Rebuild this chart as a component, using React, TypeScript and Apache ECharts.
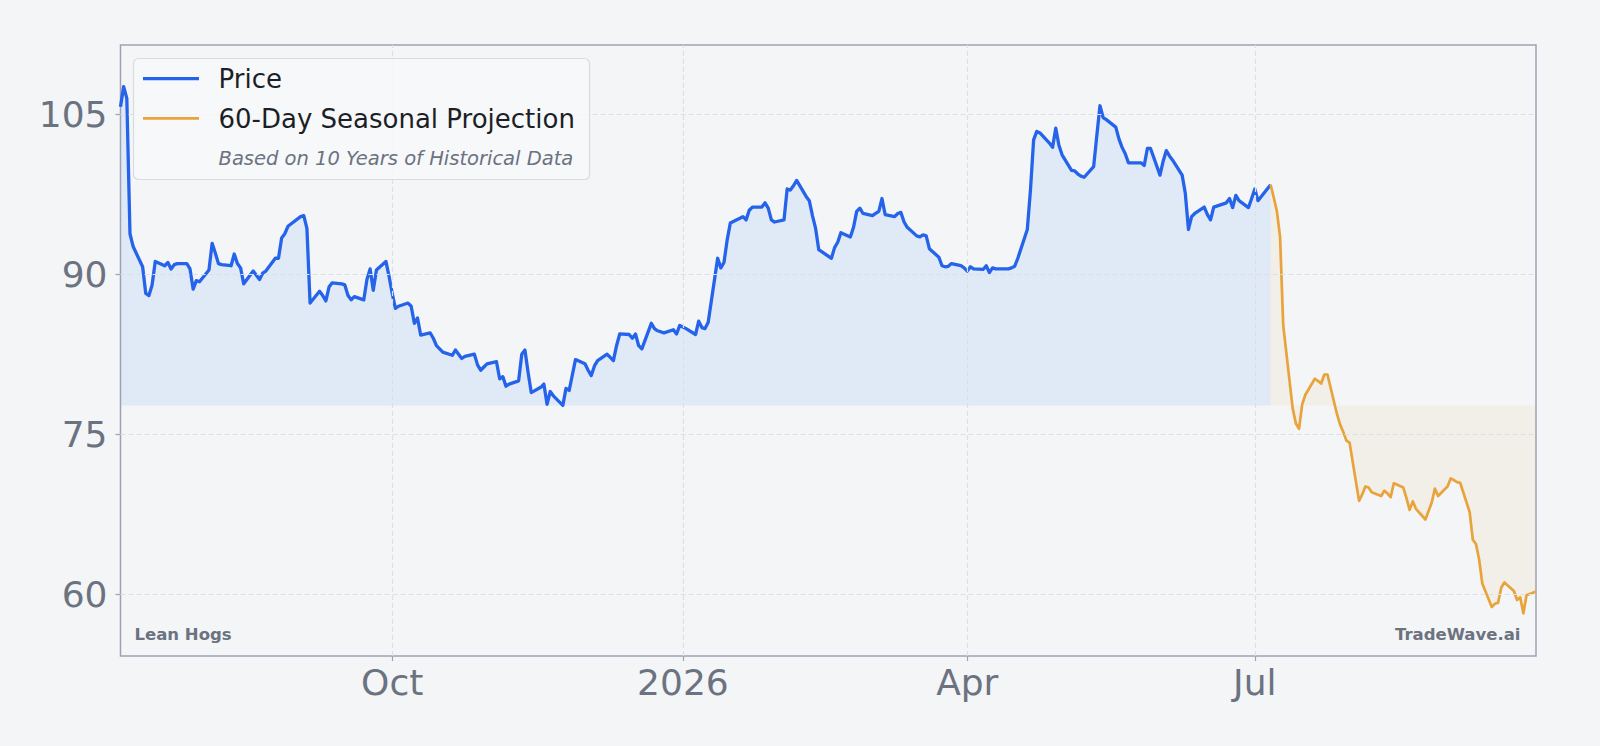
import React, { useEffect, useRef } from 'react';
import * as echarts from 'echarts';

// ---- Price (daily closes) ----
const priceDates: string[] = [
  // Jul 2025
  '2025-07-07','2025-07-08','2025-07-09','2025-07-10','2025-07-11','2025-07-14','2025-07-15','2025-07-16','2025-07-17','2025-07-18',
  '2025-07-21','2025-07-22','2025-07-23','2025-07-24','2025-07-25','2025-07-28','2025-07-29','2025-07-30','2025-07-31',
  // Aug 2025
  '2025-08-01','2025-08-04','2025-08-05','2025-08-06','2025-08-07','2025-08-08','2025-08-11','2025-08-12','2025-08-13','2025-08-14',
  '2025-08-15','2025-08-18','2025-08-19','2025-08-20','2025-08-21','2025-08-22','2025-08-25','2025-08-26','2025-08-27','2025-08-28','2025-08-29',
  // Sep 2025
  '2025-09-02','2025-09-03','2025-09-04','2025-09-05','2025-09-08','2025-09-09','2025-09-10','2025-09-11','2025-09-12','2025-09-15',
  '2025-09-16','2025-09-17','2025-09-18','2025-09-19','2025-09-22','2025-09-23','2025-09-24','2025-09-25','2025-09-26','2025-09-29','2025-09-30',
  // Oct 2025
  '2025-10-01','2025-10-02','2025-10-03','2025-10-06','2025-10-07','2025-10-08','2025-10-09','2025-10-10','2025-10-13','2025-10-14',
  '2025-10-15','2025-10-16','2025-10-17','2025-10-20','2025-10-21','2025-10-22','2025-10-23','2025-10-24','2025-10-27','2025-10-28',
  '2025-10-29','2025-10-30','2025-10-31',
  // Nov 2025
  '2025-11-03','2025-11-04','2025-11-05','2025-11-06','2025-11-07','2025-11-10','2025-11-11','2025-11-12','2025-11-13','2025-11-14',
  '2025-11-17','2025-11-18','2025-11-19','2025-11-20','2025-11-21','2025-11-24','2025-11-25','2025-11-26','2025-11-28',
  // Dec 2025
  '2025-12-01','2025-12-02','2025-12-03','2025-12-04','2025-12-05','2025-12-08','2025-12-09','2025-12-10','2025-12-11','2025-12-12',
  '2025-12-15','2025-12-16','2025-12-17','2025-12-18','2025-12-19','2025-12-22','2025-12-23','2025-12-24','2025-12-26','2025-12-29',
  '2025-12-30','2025-12-31',
  // Jan 2026
  '2026-01-02','2026-01-05','2026-01-06','2026-01-07','2026-01-08','2026-01-09','2026-01-12','2026-01-13','2026-01-14','2026-01-15',
  '2026-01-16','2026-01-20','2026-01-21','2026-01-22','2026-01-23','2026-01-26','2026-01-27','2026-01-28','2026-01-29','2026-01-30',
  // Feb 2026
  '2026-02-02','2026-02-03','2026-02-04','2026-02-05','2026-02-06','2026-02-09','2026-02-10','2026-02-11','2026-02-12','2026-02-13',
  '2026-02-17','2026-02-18','2026-02-19','2026-02-20','2026-02-23','2026-02-24','2026-02-25','2026-02-26','2026-02-27',
  // Mar 2026
  '2026-03-02','2026-03-03','2026-03-04','2026-03-05','2026-03-06','2026-03-09','2026-03-10','2026-03-11','2026-03-12','2026-03-13',
  '2026-03-16','2026-03-17','2026-03-18','2026-03-19','2026-03-20','2026-03-23','2026-03-24','2026-03-25','2026-03-26','2026-03-27',
  '2026-03-30','2026-03-31',
  // Apr 2026
  '2026-04-01','2026-04-02','2026-04-03','2026-04-06','2026-04-07','2026-04-08','2026-04-09','2026-04-10','2026-04-13','2026-04-14',
  '2026-04-15','2026-04-16','2026-04-17','2026-04-20','2026-04-21','2026-04-22','2026-04-23','2026-04-24','2026-04-27','2026-04-28',
  '2026-04-29','2026-04-30',
  // May 2026
  '2026-05-01','2026-05-04','2026-05-05','2026-05-06','2026-05-07','2026-05-08','2026-05-11','2026-05-12','2026-05-13','2026-05-14',
  '2026-05-15','2026-05-18','2026-05-19','2026-05-20','2026-05-21','2026-05-22','2026-05-26','2026-05-27','2026-05-28','2026-05-29',
  // Jun 2026
  '2026-06-01','2026-06-02','2026-06-03','2026-06-04','2026-06-05','2026-06-08','2026-06-09','2026-06-10','2026-06-11','2026-06-12',
  '2026-06-15','2026-06-16','2026-06-17','2026-06-18','2026-06-22','2026-06-23','2026-06-24','2026-06-25','2026-06-26','2026-06-29',
  '2026-06-30',
  // Jul 2026
  '2026-07-01','2026-07-02','2026-07-06',
];

const priceValues: number[] = [
  // Jul 2025
  105.7, 107.6, 106.5, 93.8, 92.6, 90.7, 88.2, 88.0, 89.0, 91.2,
  90.8, 91.1, 90.5, 90.9, 91.0, 91.0, 90.5, 88.6, 89.4,
  // Aug 2025
  89.3, 90.4, 92.9, 92.0, 91.0, 90.9, 90.8, 91.9, 91.0, 90.6,
  89.1, 90.3, 89.9, 89.5, 90.1, 90.3, 91.5, 91.5, 93.4, 93.8, 94.5,
  // Sep 2025
  95.4, 95.5, 94.3, 87.3, 88.4, 88.0, 87.5, 88.8, 89.2, 89.1,
  89.0, 88.0, 87.6, 87.9, 87.6, 89.5, 90.5, 88.5, 90.4, 91.2, 89.8,
  // Oct 2025
  88.2, 86.8, 87.0, 87.3, 87.0, 85.4, 85.9, 84.3, 84.5, 84.0,
  83.3, 83.0, 82.7, 82.4, 82.9, 82.5, 82.1, 82.3, 82.5, 81.5,
  81.0, 81.3, 81.6,
  // Nov 2025
  81.8, 80.2, 80.4, 79.5, 79.7, 80.0, 82.5, 82.9, 80.8, 78.9,
  79.4, 79.7, 77.8, 79.0, 78.6, 77.7, 79.3, 79.1, 82.0,
  // Dec 2025
  81.6, 81.0, 80.5, 81.4, 81.9, 82.5, 82.2, 81.9, 83.3, 84.4,
  84.35, 84.0, 84.4, 83.3, 83.0, 85.4, 84.9, 84.7, 84.5, 84.8,
  84.4, 85.2,
  // Jan 2026
  84.9, 84.35, 85.6, 85.0, 84.9, 85.5, 91.5, 90.6, 91.1, 93.2,
  94.8, 95.4, 95.1, 96.0, 96.3, 96.3, 96.7, 96.2, 95.1, 94.9,
  // Feb 2026
  95.1, 98.0, 97.9, 98.3, 98.8, 97.3, 96.9, 95.5, 94.3, 92.3,
  91.5, 92.5, 93.0, 93.9, 93.5, 94.4, 95.9, 96.2, 95.7,
  // Mar 2026
  95.5, 95.7, 95.9, 97.1, 95.6, 95.4, 95.7, 95.8, 94.9, 94.4,
  93.6, 93.5, 93.7, 93.6, 92.4, 91.6, 90.8, 90.7, 90.75, 91.0,
  90.8, 90.6,
  // Apr 2026
  90.3, 90.7, 90.5, 90.45, 90.8, 90.15, 90.6, 90.5, 90.5, 90.5,
  90.6, 90.75, 91.5, 94.2, 97.9, 102.6, 103.4, 103.25, 102.3, 101.9,
  103.7, 102.1,
  // May 2026
  101.2, 99.75, 99.7, 99.4, 99.2, 99.1, 100.1, 103.0, 105.8, 104.7,
  104.5, 103.8, 102.7, 101.9, 101.3, 100.45, 100.45, 100.2, 101.8, 101.8,
  // Jun 2026
  99.3, 100.6, 101.6, 101.1, 100.7, 99.3, 97.6, 94.2, 95.4, 95.7,
  96.3, 95.6, 95.1, 96.3, 96.7, 97.1, 96.25, 97.4, 96.9, 96.25,
  97.1,
  // Jul 2026
  98.0, 96.9, 98.4,
];

// ---- 60-Day Seasonal Projection (starts at the last close) ----
const projectionDates: string[] = [
  '2026-07-06','2026-07-07','2026-07-08','2026-07-09','2026-07-10',
  '2026-07-13','2026-07-14','2026-07-15','2026-07-16','2026-07-17',
  '2026-07-20','2026-07-21','2026-07-22','2026-07-23','2026-07-24',
  '2026-07-27','2026-07-28','2026-07-29','2026-07-30','2026-07-31',
  '2026-08-03','2026-08-04','2026-08-05','2026-08-06','2026-08-07',
  '2026-08-10','2026-08-11','2026-08-12','2026-08-13','2026-08-14',
  '2026-08-17','2026-08-18','2026-08-19','2026-08-20','2026-08-21',
  '2026-08-24','2026-08-25','2026-08-26','2026-08-27','2026-08-28',
  '2026-08-31','2026-09-01','2026-09-02','2026-09-03','2026-09-04',
  '2026-09-07','2026-09-08','2026-09-09','2026-09-10','2026-09-11',
  '2026-09-14','2026-09-15','2026-09-16','2026-09-17','2026-09-18',
  '2026-09-21','2026-09-22','2026-09-23','2026-09-24','2026-09-25',
  '2026-09-28',
];

const projectionValues: number[] = [
  98.4, 97.2, 95.9, 93.5, 85.2,
  77.4, 76.0, 75.5, 77.8, 78.7,
  80.2, 80.0, 79.75, 80.6, 80.6,
  76.9, 75.9, 75.2, 74.4, 74.2,
  68.75, 69.35, 70.1, 70.0, 69.56,
  69.2, 69.7, 69.45, 69.1, 70.4,
  70.0, 69.0, 67.9, 68.7, 68.0,
  67.0, 67.8, 68.6, 69.9, 69.2,
  70.1, 70.85, 70.7, 70.5, 70.45,
  67.7, 65.1, 64.7, 63.25, 61.0,
  58.8, 59.1, 59.2, 60.6, 61.1,
  60.3, 59.45, 59.7, 58.2, 59.9,
  60.25,
];

// ---- Axis ticks and texts ----
const yTickValues: number[] = [60, 75, 90, 105];
const xTickDates: string[] = ['2025-10-01', '2026-01-01', '2026-04-01', '2026-07-01'];
const xTickLabels: string[] = ['Oct', '2026', 'Apr', 'Jul'];
const legendLabels: string[] = ['Price', '60-Day Seasonal Projection'];
const legendNote = 'Based on 10 Years of Historical Data';
const commodityName = 'Lean Hogs';
const brandName = 'TradeWave.ai';

const BG = '#f4f5f7';
const SPINE = '#9ea3b2';
const GRID = '#dcdfe5';
const TICK_TEXT = '#6b7280';
const BLUE = '#2563eb';
const ORANGE = '#e8a33a';
const FONT = '"DejaVu Sans", "Noto Sans", sans-serif';

function toTs(s: string): number {
  const [y, m, d] = s.split('-').map(Number);
  return Date.UTC(y, m - 1, d);
}

export default function App() {
  const ref = useRef<HTMLDivElement>(null);

  useEffect(() => {
    if (!ref.current) return;
    const chart = echarts.init(ref.current, undefined, { renderer: 'svg' });

    const xTickTs = xTickDates.map(toTs);
    const xMin = toTs(priceDates[0]);
    const xMax = toTs(projectionDates[projectionDates.length - 1]);
    const baseline = Math.min(...priceValues);

    const priceData = priceDates.map((d, i) => [toTs(d), priceValues[i]]);
    const projData = projectionDates.map((d, i) => [toTs(d), projectionValues[i]]);

    const xLabel = (v: number) => {
      let best = -1;
      let bestDist = Infinity;
      xTickTs.forEach((t, i) => {
        const dd = Math.abs(t - v);
        if (dd < bestDist) { bestDist = dd; best = i; }
      });
      return best >= 0 && bestDist < 86400000 ? xTickLabels[best] : '';
    };

    const option: any = {
      animation: false,
      backgroundColor: BG,
      grid: {
        left: 120.5, right: 64, top: 45, bottom: 90,
        show: true, backgroundColor: BG, borderColor: SPINE, borderWidth: 1.5,
        containLabel: false, outerBoundsMode: 'none',
      },
      xAxis: {
        type: 'value',
        min: xMin,
        max: xMax,
        axisLine: { show: false },
        splitLine: { show: false },
        axisTick: { show: true, customValues: xTickTs, length: 5, lineStyle: { color: SPINE, width: 1.2 } },
        axisLabel: {
          customValues: xTickTs,
          formatter: xLabel,
          color: TICK_TEXT, fontSize: 36, fontFamily: FONT, margin: 8,
        },
      },
      yAxis: {
        type: 'value',
        min: 54.2,
        max: 111.5,
        axisLine: { show: false },
        splitLine: { show: false },
        axisTick: { show: true, customValues: yTickValues, length: 5, lineStyle: { color: SPINE, width: 1.2 } },
        axisLabel: {
          customValues: yTickValues,
          formatter: (v: number) => String(Math.round(v)),
          color: TICK_TEXT, fontSize: 36, fontFamily: FONT, margin: 13,
        },
      },
      series: [
        {
          type: 'line',
          name: 'gridlines',
          data: [],
          silent: true,
          z: 1,
          markLine: {
            silent: true,
            symbol: ['none', 'none'],
            label: { show: false },
            emphasis: { disabled: true },
            lineStyle: { color: GRID, width: 1.2, type: [5, 3] },
            data: [
              ...yTickValues.map((v) => ({ yAxis: v })),
              ...xTickTs.map((t) => ({ xAxis: t })),
            ],
          },
        },
        {
          type: 'line',
          name: legendLabels[0],
          data: priceData,
          showSymbol: false,
          symbol: 'none',
          z: 3,
          lineStyle: { color: BLUE, width: 3.3, join: 'round' },
          itemStyle: { color: BLUE },
          areaStyle: { color: 'rgba(96,165,250,0.13)', opacity: 1, origin: baseline },
        },
        {
          type: 'line',
          name: legendLabels[1],
          data: projData,
          showSymbol: false,
          symbol: 'none',
          z: 4,
          lineStyle: { color: ORANGE, width: 2.7, join: 'round' },
          itemStyle: { color: ORANGE },
          areaStyle: { color: 'rgba(232,163,58,0.075)', opacity: 1, origin: baseline },
        },
      ],
      graphic: [
        {
          type: 'rect',
          z: 100,
          shape: { x: 133.5, y: 58.5, width: 456, height: 121, r: 5 },
          style: { fill: 'rgba(247,248,250,0.85)', stroke: '#d8dbe2', lineWidth: 1.2 },
        },
        {
          type: 'line',
          z: 101,
          shape: { x1: 143, y1: 78.7, x2: 199, y2: 78.7 },
          style: { stroke: BLUE, lineWidth: 3.3 },
        },
        {
          type: 'line',
          z: 101,
          shape: { x1: 143, y1: 118.3, x2: 199, y2: 118.3 },
          style: { stroke: ORANGE, lineWidth: 2.7 },
        },
        {
          type: 'text',
          z: 101,
          x: 218.5,
          y: 79,
          style: {
            text: legendLabels[0], font: `26px ${FONT}`, fill: '#1c1f26',
            align: 'left', verticalAlign: 'middle', textAlign: 'left', textVerticalAlign: 'middle',
          },
        },
        {
          type: 'text',
          z: 101,
          x: 218.5,
          y: 118.5,
          style: {
            text: legendLabels[1], font: `26px ${FONT}`, fill: '#1c1f26',
            align: 'left', verticalAlign: 'middle', textAlign: 'left', textVerticalAlign: 'middle',
          },
        },
        {
          type: 'text',
          z: 101,
          x: 218.5,
          y: 158,
          style: {
            text: legendNote, font: `italic 19.5px ${FONT}`, fill: TICK_TEXT,
            align: 'left', verticalAlign: 'middle', textAlign: 'left', textVerticalAlign: 'middle',
          },
        },
        {
          type: 'text',
          z: 101,
          x: 134.5,
          y: 634,
          style: {
            text: commodityName, font: `bold 16.5px ${FONT}`, fill: TICK_TEXT,
            align: 'left', verticalAlign: 'middle', textAlign: 'left', textVerticalAlign: 'middle',
          },
        },
        {
          type: 'text',
          z: 101,
          x: 1520.5,
          y: 634,
          style: {
            text: brandName, font: `bold 16.5px ${FONT}`, fill: TICK_TEXT,
            align: 'right', verticalAlign: 'middle', textAlign: 'right', textVerticalAlign: 'middle',
          },
        },
      ],
    };

    chart.setOption(option);
    return () => {
      chart.dispose();
    };
  }, []);

  return (
    <div
      ref={ref}
      style={{ position: 'fixed', left: 0, top: 0, width: 1600, height: 746, background: BG }}
    />
  );
}
